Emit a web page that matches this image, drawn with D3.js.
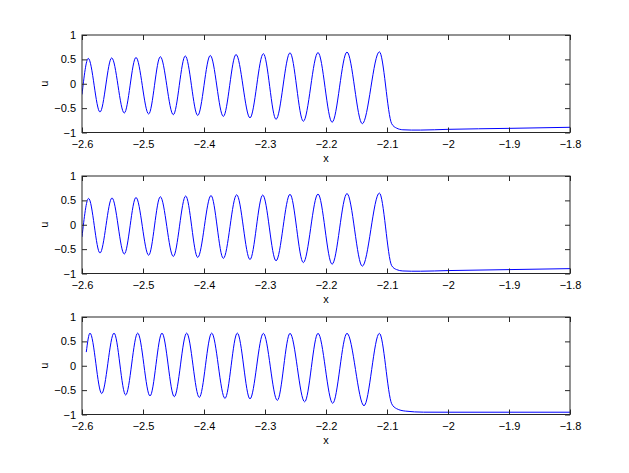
<!DOCTYPE html>
<html>
<head>
<meta charset="utf-8">
<script src="https://cdn.jsdelivr.net/npm/d3@7"></script>
<style>
  html, body { margin: 0; padding: 0; background: #fff; }
  svg text { font-family: "Liberation Sans", Arial, Helvetica, sans-serif; }
</style>
</head>
<body>
<svg id="chart" width="629" height="473"></svg>
<script>
// ---- Data ----
const xTicks = [-2.6, -2.5, -2.4, -2.3, -2.2, -2.1, -2.0, -1.9, -1.8];
const yTicks = [-1, -0.5, 0, 0.5, 1];
const xLabel = "x";
const yLabel = "u";

// Panel 1: extrema of the wave train and the tail
const p1X = [-2.6, -2.5897, -2.5705, -2.5513, -2.5307, -2.5115, -2.4907, -2.4716, -2.4503, -2.4307, -2.4103,
             -2.3897, -2.3683, -2.3475, -2.3246, -2.3027, -2.2819, -2.259, -2.2372, -2.2131, -2.19,
             -2.1656, -2.1405, -2.1125, -2.0923, -2.0843, -2.074, -2.06, -2.045, -2.0, -1.9, -1.8];
const p1U = [-0.22, 0.52, -0.58, 0.53, -0.60, 0.54, -0.62, 0.555, -0.635, 0.57, -0.65,
             0.58, -0.67, 0.60, -0.70, 0.617, -0.73, 0.635, -0.77, 0.64, -0.79,
             0.65, -0.82, 0.655, -0.82, -0.91, -0.944, -0.95, -0.95, -0.935, -0.915, -0.893];

// Panel 2
const p2X = [-2.6, -2.5892, -2.5705, -2.5508, -2.5307, -2.5115, -2.4907, -2.4716, -2.4503, -2.4300, -2.4103,
             -2.3885, -2.3683, -2.3464, -2.3246, -2.3037, -2.2819, -2.259, -2.2372, -2.2131, -2.19,
             -2.1656, -2.1405, -2.1125, -2.0923, -2.0843, -2.074, -2.06, -2.045, -2.0, -1.9, -1.8];
const p2U = [-0.25, 0.54, -0.58, 0.55, -0.60, 0.56, -0.625, 0.575, -0.65, 0.59, -0.67,
             0.60, -0.69, 0.615, -0.714, 0.61, -0.74, 0.625, -0.776, 0.63, -0.81,
             0.64, -0.85, 0.65, -0.84, -0.92, -0.948, -0.953, -0.953, -0.94, -0.92, -0.90];

// Panel 3
const p3X = [-2.593, -2.5869, -2.5677, -2.5475, -2.5284, -2.5087, -2.4885, -2.4689, -2.4487, -2.4284, -2.4077,
             -2.3874, -2.3656, -2.3454, -2.3246, -2.3027, -2.2798, -2.259, -2.235, -2.2131, -2.189,
             -2.1656, -2.1377, -2.1125, -2.0923, -2.0843, -2.07, -2.04, -2.0, -1.8];
const p3U = [0.28, 0.67, -0.57, 0.67, -0.60, 0.67, -0.62, 0.67, -0.635, 0.67, -0.65,
             0.67, -0.67, 0.67, -0.68, 0.665, -0.71, 0.665, -0.74, 0.665, -0.77,
             0.665, -0.82, 0.665, -0.78, -0.88, -0.93, -0.952, -0.953, -0.953];

const panels = [
  { xs: p1X, us: p1U },
  { xs: p2X, us: p2U },
  { xs: p3X, us: p3U }
];

// ---- Layout ----
const svg = d3.select("#chart");
const left = 82, right = 570;
const tops = [35, 176, 317];
const plotH = 97.5;
const fmt = v => (v < 0 ? "\u2212" : "") + d3.format("")(Math.abs(Math.round(v * 10) / 10));

const x = d3.scaleLinear().domain([-2.6, -1.8]).range([left, right]);

panels.forEach((p, i) => {
  const top = tops[i], bottom = top + plotH;
  const y = d3.scaleLinear().domain([-1, 1]).range([bottom, top]);
  const g = svg.append("g");

  const clipId = "clip" + i;
  svg.append("defs").append("clipPath").attr("id", clipId)
    .append("rect").attr("x", left).attr("y", top).attr("width", right - left).attr("height", plotH);

  const data = p.xs.map((xv, k) => [xv, p.us[k]]);
  const line = d3.line().x(d => x(d[0])).y(d => y(d[1])).curve(d3.curveMonotoneX);
  g.append("path").datum(data)
    .attr("d", line)
    .attr("clip-path", `url(#${clipId})`)
    .attr("fill", "none")
    .attr("stroke", "#0000ff")
    .attr("stroke-width", 1);

  const axStyle = sel => {
    sel.select(".domain").remove();
    sel.selectAll(".tick line").attr("stroke", "#262626");
    sel.selectAll("text").attr("fill", "#000").attr("font-size", 11)
      .attr("font-family", "'Liberation Sans', Arial, Helvetica, sans-serif");
  };

  g.append("g").attr("transform", `translate(0,${bottom})`)
    .call(d3.axisBottom(x).tickValues(xTicks).tickFormat(fmt).tickSize(-5).tickPadding(8))
    .call(axStyle);
  g.append("g").attr("transform", `translate(0,${top})`)
    .call(d3.axisTop(x).tickValues(xTicks).tickFormat("").tickSize(-5))
    .call(axStyle);
  g.append("g").attr("transform", `translate(${left},0)`)
    .call(d3.axisLeft(y).tickValues(yTicks).tickFormat(fmt).tickSize(-5).tickPadding(6))
    .call(axStyle);
  g.append("g").attr("transform", `translate(${right},0)`)
    .call(d3.axisRight(y).tickValues(yTicks).tickFormat("").tickSize(-5))
    .call(axStyle);

  g.append("rect").attr("x", left).attr("y", top).attr("width", right - left).attr("height", plotH)
    .attr("fill", "none").attr("stroke", "#262626").attr("stroke-width", 1);

  g.append("text").attr("x", (left + right) / 2).attr("y", bottom + 29)
    .attr("text-anchor", "middle").attr("font-size", 11).attr("fill", "#000").text(xLabel);
  g.append("text")
    .attr("transform", `translate(${48},${(top + bottom) / 2}) rotate(-90)`)
    .attr("text-anchor", "middle").attr("font-size", 11).attr("fill", "#000").text(yLabel);
});
</script>
</body>
</html>
